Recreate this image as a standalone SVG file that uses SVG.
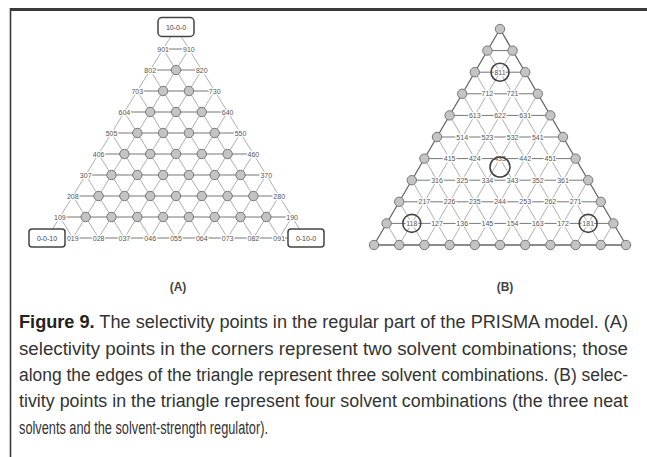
<svg xmlns="http://www.w3.org/2000/svg" width="647" height="457" viewBox="0 0 647 457">
<defs>
<style>
.frame{stroke:#3a3a3a;fill:none}
.lat{stroke:#9a9a9a;stroke-width:0.8;fill:none}
.hz{stroke:#777;stroke-width:1;fill:none}
.edge{stroke:#666;stroke-width:1.3;fill:none}
.nd{fill:#c4c4c4;stroke:#777;stroke-width:1}
.lb{font-family:"Liberation Sans",Arial,sans-serif;font-size:7px;fill:#555;text-anchor:middle;dominant-baseline:central;paint-order:stroke;stroke:#fff;stroke-width:2.5px}
.bx{fill:#fff;stroke:#444;stroke-width:1.5}
.bt{font-family:"Liberation Sans",Arial,sans-serif;font-size:7px;fill:#444;text-anchor:middle;dominant-baseline:central}
.ring{fill:none;stroke:#444;stroke-width:1.6}
.pl{font-family:"Liberation Sans",Arial,sans-serif;font-size:12px;font-weight:bold;fill:#444;text-anchor:middle}
.cap{font-family:"Liberation Sans",Arial,sans-serif;font-size:18px;fill:#333}
.capb{font-weight:bold;fill:#222}
</style>
<circle id="n" r="4.7" class="nd"/>
</defs>
<g id="frame">
<line class="frame" x1="10" y1="9.5" x2="647" y2="9.5" stroke-width="3"/>
<line class="frame" x1="10.5" y1="8" x2="10.5" y2="457" stroke-width="1.6"/>
</g>
<g id="connectors">
<g id="connA">
<path class="lat" d="M176,28L47,238M188.9,49L72.8,238M201.8,70L98.6,238M214.7,91L124.4,238M227.6,112L150.2,238M240.5,133L176,238M253.4,154L201.8,238M266.3,175L227.6,238M279.2,196L253.4,238M292.1,217L279.2,238"/>
<path class="lat" d="M176,28L305,238M163.1,49L279.2,238M150.2,70L253.4,238M137.3,91L227.6,238M124.4,112L201.8,238M111.5,133L176,238M98.6,154L150.2,238M85.7,175L124.4,238M72.8,196L98.6,238M59.9,217L72.8,238"/>
<path class="hz" d="M163.1,49H188.9M150.2,70H201.8M137.3,91H214.7M124.4,112H227.6M111.5,133H240.5M98.6,154H253.4M85.7,175H266.3M72.8,196H279.2M59.9,217H292.1M47,238H305"/>
</g>
<g id="connB">
<path class="lat" d="M512.6,50.6L399.2,245M525.2,72.2L424.4,245M537.8,93.8L449.6,245M550.4,115.4L474.8,245M563,137L500,245M575.6,158.6L525.2,245M588.2,180.2L550.4,245M600.8,201.8L575.6,245M613.4,223.4L600.8,245"/>
<path class="lat" d="M487.4,50.6L600.8,245M474.8,72.2L575.6,245M462.2,93.8L550.4,245M449.6,115.4L525.2,245M437,137L500,245M424.4,158.6L474.8,245M411.8,180.2L449.6,245M399.2,201.8L424.4,245M386.6,223.4L399.2,245"/>
<path class="hz" d="M487.4,50.6H512.6M474.8,72.2H525.2M462.2,93.8H537.8M449.6,115.4H550.4M437,137H563M424.4,158.6H575.6M411.8,180.2H588.2M399.2,201.8H600.8M386.6,223.4H613.4"/>
<path class="edge" d="M500,29L374,245H626Z"/>
</g>
</g>
<g id="nodesA">
<g id="A-10-0-0"><rect class="bx" x="158" y="17.5" width="36" height="19" rx="4"/><text class="bt" x="176" y="27">10-0-0</text></g>
<g id="A-0-0-10"><rect class="bx" x="29" y="229" width="36" height="18" rx="3"/><text class="bt" x="47" y="238">0-0-10</text></g>
<g id="A-0-10-0"><rect class="bx" x="288" y="229" width="36" height="18" rx="3"/><text class="bt" x="306" y="238">0-10-0</text></g>
<g id="A-left">
<text class="lb" x="163.1" y="49">901</text><text class="lb" x="150.2" y="70">802</text><text class="lb" x="137.3" y="91">703</text><text class="lb" x="124.4" y="112">604</text><text class="lb" x="111.5" y="133">505</text><text class="lb" x="98.6" y="154">406</text><text class="lb" x="85.7" y="175">307</text><text class="lb" x="72.8" y="196">208</text><text class="lb" x="59.9" y="217">109</text>
</g>
<g id="A-right">
<text class="lb" x="188.9" y="49">910</text><text class="lb" x="201.8" y="70">820</text><text class="lb" x="214.7" y="91">730</text><text class="lb" x="227.6" y="112">640</text><text class="lb" x="240.5" y="133">550</text><text class="lb" x="253.4" y="154">460</text><text class="lb" x="266.3" y="175">370</text><text class="lb" x="279.2" y="196">280</text><text class="lb" x="292.1" y="217">190</text>
</g>
<g id="A-bottom">
<text class="lb" x="72.8" y="238">019</text><text class="lb" x="98.6" y="238">028</text><text class="lb" x="124.4" y="238">037</text><text class="lb" x="150.2" y="238">046</text><text class="lb" x="176" y="238">055</text><text class="lb" x="201.8" y="238">064</text><text class="lb" x="227.6" y="238">073</text><text class="lb" x="253.4" y="238">082</text><text class="lb" x="279.2" y="238">091</text>
</g>
<g id="A-inner">
<use href="#n" x="176" y="70"/>
<use href="#n" x="163.1" y="91"/><use href="#n" x="188.9" y="91"/>
<use href="#n" x="150.2" y="112"/><use href="#n" x="176" y="112"/><use href="#n" x="201.8" y="112"/>
<use href="#n" x="137.3" y="133"/><use href="#n" x="163.1" y="133"/><use href="#n" x="188.9" y="133"/><use href="#n" x="214.7" y="133"/>
<use href="#n" x="124.4" y="154"/><use href="#n" x="150.2" y="154"/><use href="#n" x="176" y="154"/><use href="#n" x="201.8" y="154"/><use href="#n" x="227.6" y="154"/>
<use href="#n" x="111.5" y="175"/><use href="#n" x="137.3" y="175"/><use href="#n" x="163.1" y="175"/><use href="#n" x="188.9" y="175"/><use href="#n" x="214.7" y="175"/><use href="#n" x="240.5" y="175"/>
<use href="#n" x="98.6" y="196"/><use href="#n" x="124.4" y="196"/><use href="#n" x="150.2" y="196"/><use href="#n" x="176" y="196"/><use href="#n" x="201.8" y="196"/><use href="#n" x="227.6" y="196"/><use href="#n" x="253.4" y="196"/>
<use href="#n" x="85.7" y="217"/><use href="#n" x="111.5" y="217"/><use href="#n" x="137.3" y="217"/><use href="#n" x="163.1" y="217"/><use href="#n" x="188.9" y="217"/><use href="#n" x="214.7" y="217"/><use href="#n" x="240.5" y="217"/><use href="#n" x="266.3" y="217"/>
</g>
</g>
<g id="nodesB">
<g id="B-perimeter">
<use href="#n" x="500" y="29"/>
<use href="#n" x="487.4" y="50.6"/><use href="#n" x="512.6" y="50.6"/>
<use href="#n" x="474.8" y="72.2"/><use href="#n" x="525.2" y="72.2"/>
<use href="#n" x="462.2" y="93.8"/><use href="#n" x="537.8" y="93.8"/>
<use href="#n" x="449.6" y="115.4"/><use href="#n" x="550.4" y="115.4"/>
<use href="#n" x="437" y="137"/><use href="#n" x="563" y="137"/>
<use href="#n" x="424.4" y="158.6"/><use href="#n" x="575.6" y="158.6"/>
<use href="#n" x="411.8" y="180.2"/><use href="#n" x="588.2" y="180.2"/>
<use href="#n" x="399.2" y="201.8"/><use href="#n" x="600.8" y="201.8"/>
<use href="#n" x="386.6" y="223.4"/><use href="#n" x="613.4" y="223.4"/>
<use href="#n" x="374" y="245"/><use href="#n" x="399.2" y="245"/><use href="#n" x="424.4" y="245"/><use href="#n" x="449.6" y="245"/><use href="#n" x="474.8" y="245"/><use href="#n" x="500" y="245"/><use href="#n" x="525.2" y="245"/><use href="#n" x="550.4" y="245"/><use href="#n" x="575.6" y="245"/><use href="#n" x="600.8" y="245"/><use href="#n" x="626" y="245"/>
</g>
<g id="B-inner">
<text class="lb" x="500" y="72.2">811</text>
<text class="lb" x="487.4" y="93.8">712</text><text class="lb" x="512.6" y="93.8">721</text>
<text class="lb" x="474.8" y="115.4">613</text><text class="lb" x="500" y="115.4">622</text><text class="lb" x="525.2" y="115.4">631</text>
<text class="lb" x="462.2" y="137">514</text><text class="lb" x="487.4" y="137">523</text><text class="lb" x="512.6" y="137">532</text><text class="lb" x="537.8" y="137">541</text>
<text class="lb" x="449.6" y="158.6">415</text><text class="lb" x="474.8" y="158.6">424</text><text class="lb" x="500" y="158.6">433</text><text class="lb" x="525.2" y="158.6">442</text><text class="lb" x="550.4" y="158.6">451</text>
<text class="lb" x="437" y="180.2">316</text><text class="lb" x="462.2" y="180.2">325</text><text class="lb" x="487.4" y="180.2">334</text><text class="lb" x="512.6" y="180.2">343</text><text class="lb" x="537.8" y="180.2">352</text><text class="lb" x="563" y="180.2">361</text>
<text class="lb" x="424.4" y="201.8">217</text><text class="lb" x="449.6" y="201.8">226</text><text class="lb" x="474.8" y="201.8">235</text><text class="lb" x="500" y="201.8">244</text><text class="lb" x="525.2" y="201.8">253</text><text class="lb" x="550.4" y="201.8">262</text><text class="lb" x="575.6" y="201.8">271</text>
<text class="lb" x="411.8" y="223.4">118</text><text class="lb" x="437" y="223.4">127</text><text class="lb" x="462.2" y="223.4">136</text><text class="lb" x="487.4" y="223.4">145</text><text class="lb" x="512.6" y="223.4">154</text><text class="lb" x="537.8" y="223.4">163</text><text class="lb" x="563" y="223.4">172</text><text class="lb" x="588.2" y="223.4">181</text>
</g>
<g id="B-rings">
<circle class="ring" cx="500" cy="72.2" r="9"/>
<circle class="ring" cx="500" cy="167" r="10"/>
<circle class="ring" cx="411.8" cy="223.4" r="9"/>
<circle class="ring" cx="588.2" cy="223.4" r="9"/>
</g>
</g>
<g id="panel-labels">
<text class="pl" x="178" y="291">(A)</text>
<text class="pl" x="505" y="291">(B)</text>
</g>
<g id="caption">
<text class="cap" x="19" y="328" textLength="609" lengthAdjust="spacingAndGlyphs"><tspan class="capb">Figure 9.</tspan> The selectivity points in the regular part of the PRISMA model. (A)</text>
<text class="cap" x="19" y="355" textLength="609" lengthAdjust="spacingAndGlyphs">selectivity points in the corners represent two solvent combinations; those</text>
<text class="cap" x="19" y="381" textLength="609" lengthAdjust="spacingAndGlyphs">along the edges of the triangle represent three solvent combinations. (B) selec-</text>
<text class="cap" x="19" y="407" textLength="609" lengthAdjust="spacingAndGlyphs">tivity points in the triangle represent four solvent combinations (the three neat</text>
<text class="cap" x="19" y="434" textLength="249" lengthAdjust="spacingAndGlyphs">solvents and the solvent-strength regulator).</text>
</g>
</svg>
